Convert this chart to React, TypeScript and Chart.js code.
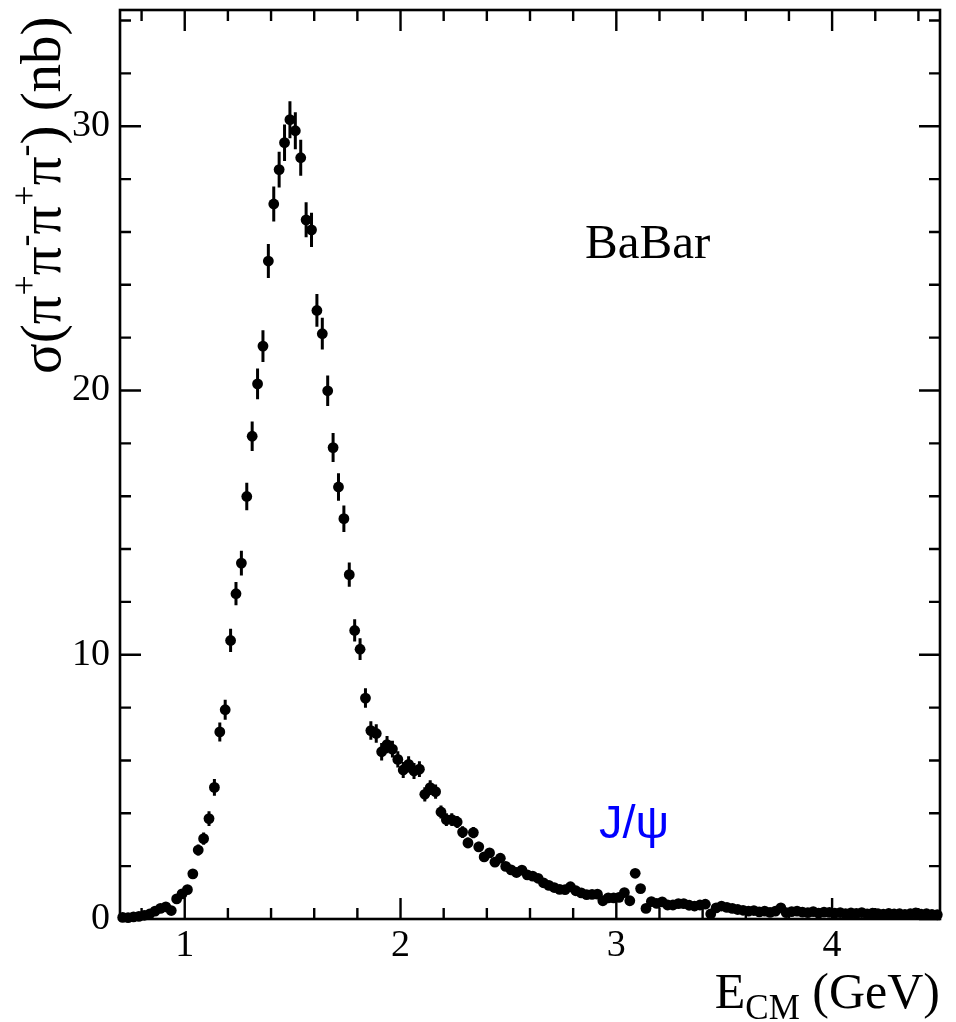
import { useEffect, useRef } from 'react';
import { Chart, registerables } from 'chart.js';

Chart.register(...registerables);

// Bin centres (GeV)
const energy = [
  0.7125, 0.7375, 0.7625, 0.7875, 0.8125, 0.8375, 0.8625, 0.8875,
  0.9125, 0.9375, 0.9625, 0.9875, 1.0125, 1.0375, 1.0625, 1.0875,
  1.1125, 1.1375, 1.1625, 1.1875, 1.2125, 1.2375, 1.2625, 1.2875,
  1.3125, 1.3375, 1.3625, 1.3875, 1.4125, 1.4375, 1.4625, 1.4875,
  1.5125, 1.5375, 1.5625, 1.5875, 1.6125, 1.6375, 1.6625, 1.6875,
  1.7125, 1.7375, 1.7625, 1.7875, 1.8125, 1.8375, 1.8625, 1.8875,
  1.9125, 1.9375, 1.9625, 1.9875, 2.0125, 2.0375, 2.0625, 2.0875,
  2.1125, 2.1375, 2.1625, 2.1875, 2.2125, 2.2375, 2.2625, 2.2875,
  2.3125, 2.3375, 2.3625, 2.3875, 2.4125, 2.4375, 2.4625, 2.4875,
  2.5125, 2.5375, 2.5625, 2.5875, 2.6125, 2.6375, 2.6625, 2.6875,
  2.7125, 2.7375, 2.7625, 2.7875, 2.8125, 2.8375, 2.8625, 2.8875,
  2.9125, 2.9375, 2.9625, 2.9875, 3.0125, 3.0375, 3.0625, 3.0875,
  3.1125, 3.1375, 3.1625, 3.1875, 3.2125, 3.2375, 3.2625, 3.2875,
  3.3125, 3.3375, 3.3625, 3.3875, 3.4125, 3.4375, 3.4625, 3.4875,
  3.5125, 3.5375, 3.5625, 3.5875, 3.6125, 3.6375, 3.6625, 3.6875,
  3.7125, 3.7375, 3.7625, 3.7875, 3.8125, 3.8375, 3.8625, 3.8875,
  3.9125, 3.9375, 3.9625, 3.9875, 4.0125, 4.0375, 4.0625, 4.0875,
  4.1125, 4.1375, 4.1625, 4.1875, 4.2125, 4.2375, 4.2625, 4.2875,
  4.3125, 4.3375, 4.3625, 4.3875, 4.4125, 4.4375, 4.4625, 4.4875,
];

// Cross section (nb)
const sigma = [
  0.06, 0.05, 0.08, 0.10, 0.14, 0.19, 0.30, 0.40,
  0.46, 0.32, 0.76, 0.95, 1.11, 1.71, 2.61, 3.04,
  3.80, 4.98, 7.08, 7.92, 10.54, 12.31, 13.47, 15.99,
  18.27, 20.25, 21.68, 24.90, 27.06, 28.36, 29.38, 30.25,
  29.83, 28.81, 26.46, 26.08, 23.03, 22.15, 19.99, 17.84,
  16.35, 15.15, 13.03, 10.92, 10.21, 8.36, 7.13, 7.02,
  6.33, 6.60, 6.43, 6.04, 5.64, 5.85, 5.60, 5.67,
  4.72, 4.97, 4.82, 4.05, 3.76, 3.76, 3.67, 3.29,
  2.88, 3.27, 2.73, 2.35, 2.50, 2.15, 2.30, 1.99,
  1.86, 1.76, 1.85, 1.67, 1.62, 1.54, 1.37, 1.27,
  1.19, 1.12, 1.11, 1.22, 1.07, 0.99, 0.92, 0.93,
  0.94, 0.69, 0.80, 0.80, 0.82, 1.00, 0.69, 1.73,
  1.15, 0.40, 0.66, 0.59, 0.65, 0.53, 0.53, 0.58,
  0.58, 0.52, 0.49, 0.53, 0.56, 0.19, 0.42, 0.49,
  0.44, 0.40, 0.36, 0.33, 0.30, 0.32, 0.27, 0.30,
  0.25, 0.30, 0.42, 0.24, 0.28, 0.30, 0.26, 0.24,
  0.28, 0.22, 0.26, 0.25, 0.22, 0.24, 0.20, 0.23,
  0.21, 0.24, 0.19, 0.22, 0.20, 0.18, 0.21, 0.19,
  0.20, 0.17, 0.20, 0.23, 0.18, 0.20, 0.17, 0.16,
];

// Statistical errors (nb)
const sigmaErr = [
  0.03, 0.03, 0.04, 0.04, 0.05, 0.06, 0.07, 0.08,
  0.09, 0.08, 0.11, 0.12, 0.13, 0.17, 0.21, 0.23,
  0.28, 0.32, 0.36, 0.38, 0.44, 0.44, 0.47, 0.52,
  0.56, 0.58, 0.60, 0.64, 0.66, 0.68, 0.69, 0.70,
  0.70, 0.68, 0.66, 0.65, 0.62, 0.60, 0.58, 0.55,
  0.52, 0.50, 0.46, 0.42, 0.41, 0.37, 0.35, 0.35,
  0.33, 0.33, 0.32, 0.31, 0.30, 0.31, 0.30, 0.30,
  0.27, 0.28, 0.27, 0.25, 0.24, 0.24, 0.23, 0.22,
  0.20, 0.21, 0.19, 0.18, 0.18, 0.17, 0.17, 0.16,
  0.15, 0.15, 0.15, 0.14, 0.14, 0.14, 0.13, 0.12,
  0.12, 0.12, 0.11, 0.12, 0.11, 0.11, 0.10, 0.10,
  0.10, 0.09, 0.09, 0.09, 0.09, 0.10, 0.09, 0.13,
  0.11, 0.07, 0.08, 0.08, 0.08, 0.07, 0.07, 0.08,
  0.08, 0.07, 0.07, 0.07, 0.08, 0.05, 0.07, 0.07,
  0.07, 0.06, 0.06, 0.06, 0.06, 0.06, 0.05, 0.06,
  0.05, 0.05, 0.05, 0.05, 0.05, 0.05, 0.05, 0.05,
  0.05, 0.05, 0.05, 0.05, 0.05, 0.05, 0.05, 0.05,
  0.05, 0.05, 0.05, 0.05, 0.05, 0.05, 0.05, 0.05,
  0.05, 0.05, 0.05, 0.05, 0.05, 0.05, 0.05, 0.05,
];

const xMajorTicks = [1, 2, 3, 4];
const xMinorTicks = [0.8, 1.2, 1.4, 1.6, 1.8, 2.2, 2.4, 2.6, 2.8, 3.2, 3.4, 3.6, 3.8, 4.2, 4.4];
const yMajorTicks = [0, 10, 20, 30];
const yMinorTicks = [2, 4, 6, 8, 12, 14, 16, 18, 22, 24, 26, 28, 32, 34];

const X_MIN = 0.7;
const X_MAX = 4.5;
const Y_MIN = 0;
const Y_MAX = 34.4;

const experimentLabel = 'BaBar';
const experimentLabelPos = { x: 2.855, y: 25.0 };
const resonanceLabel = 'J/ψ';
const resonanceLabelPos = { x: 2.92, y: 3.07 };

const SERIF = '"Liberation Serif", "Times New Roman", serif';
const SANS = '"Liberation Sans", Arial, sans-serif';

export default function App() {
  const ref = useRef<HTMLCanvasElement>(null);

  useEffect(() => {
    document.body.style.margin = '0';
    const canvas = ref.current!;

    const rootStyle = {
      id: 'rootStyle',
      beforeDatasetsDraw(chart: any) {
        const { ctx } = chart;
        const xs = chart.scales.x;
        const ys = chart.scales.y;
        ctx.save();
        ctx.strokeStyle = '#000';
        ctx.lineWidth = 3;
        ctx.beginPath();
        for (let i = 0; i < energy.length; i++) {
          const px = xs.getPixelForValue(energy[i]);
          ctx.moveTo(px, ys.getPixelForValue(sigma[i] - sigmaErr[i]));
          ctx.lineTo(px, ys.getPixelForValue(sigma[i] + sigmaErr[i]));
        }
        ctx.stroke();
        ctx.restore();
      },
      afterDatasetsDraw(chart: any) {
        const { ctx, chartArea: a } = chart;
        const xs = chart.scales.x;
        const ys = chart.scales.y;
        ctx.save();
        ctx.strokeStyle = '#000';
        ctx.lineWidth = 2.6;
        ctx.strokeRect(a.left, a.top, a.right - a.left, a.bottom - a.top);
        ctx.lineWidth = 2.4;
        ctx.beginPath();
        const xTick = (v: number, len: number) => {
          const p = xs.getPixelForValue(v);
          ctx.moveTo(p, a.bottom);
          ctx.lineTo(p, a.bottom - len);
          ctx.moveTo(p, a.top);
          ctx.lineTo(p, a.top + len);
        };
        const yTick = (v: number, len: number) => {
          const p = ys.getPixelForValue(v);
          ctx.moveTo(a.left, p);
          ctx.lineTo(a.left + len, p);
          ctx.moveTo(a.right, p);
          ctx.lineTo(a.right - len, p);
        };
        xMajorTicks.forEach((v) => xTick(v, 21));
        xMinorTicks.forEach((v) => xTick(v, 11));
        yMajorTicks.forEach((v) => yTick(v, 21));
        yMinorTicks.forEach((v) => yTick(v, 11));
        ctx.stroke();

        // annotations
        ctx.fillStyle = '#000';
        ctx.font = `49px ${SERIF}`;
        ctx.textAlign = 'left';
        ctx.textBaseline = 'alphabetic';
        ctx.fillText(
          experimentLabel,
          xs.getPixelForValue(experimentLabelPos.x),
          ys.getPixelForValue(experimentLabelPos.y)
        );
        ctx.fillStyle = '#0000ff';
        ctx.font = `47px ${SANS}`;
        ctx.fillText(
          resonanceLabel,
          xs.getPixelForValue(resonanceLabelPos.x),
          ys.getPixelForValue(resonanceLabelPos.y)
        );

        // x title: E_CM (GeV)
        ctx.fillStyle = '#000';
        const big = `50px ${SERIF}`;
        const small = `35px ${SERIF}`;
        ctx.font = big;
        const wE = ctx.measureText('E').width;
        const wRest = ctx.measureText(' (GeV)').width;
        ctx.font = small;
        const wCM = ctx.measureText('CM').width;
        let x0 = a.right - (wE + wCM + wRest);
        const base = 1008;
        ctx.font = big;
        ctx.fillText('E', x0, base);
        x0 += wE;
        ctx.font = small;
        ctx.fillText('CM', x0, base + 11);
        x0 += wCM;
        ctx.font = big;
        ctx.fillText(' (GeV)', x0, base);

        // y title: σ(π+π-π+π-) (nb), rotated
        const ybig = `57px ${SERIF}`;
        const ysup = `36px ${SERIF}`;
        ctx.translate(60, 374);
        ctx.rotate(-Math.PI / 2);
        const parts: [string, boolean][] = [
          ['σ(π', false], ['+', true], ['π', false], ['-', true],
          ['π', false], ['+', true], ['π', false], ['-', true],
          [') (nb)', false],
        ];
        let tx = 0;
        for (const [t, sup] of parts) {
          ctx.font = sup ? ysup : ybig;
          ctx.fillText(t, tx, sup ? -24 : 0);
          tx += ctx.measureText(t).width;
        }
        ctx.restore();
      },
    };

    const chart = new Chart(canvas, {
      type: 'scatter',
      data: {
        datasets: [
          {
            data: energy.map((x, i) => ({ x, y: sigma[i] })),
            pointRadius: 5.4,
            pointHoverRadius: 5.4,
            pointBackgroundColor: '#000',
            pointBorderWidth: 0,
            showLine: false,
            clip: 6,
          } as any,
        ],
      },
      options: {
        responsive: false,
        animation: false,
        devicePixelRatio: 1,
        events: [],
        layout: { autoPadding: false, padding: { top: 10, right: 16, left: 0, bottom: 0 } },
        plugins: { legend: { display: false }, tooltip: { enabled: false } },
        scales: {
          x: {
            type: 'linear',
            min: X_MIN,
            max: X_MAX,
            grid: { display: false, drawTicks: false },
            border: { display: false },
            afterBuildTicks: (s: any) => {
              s.ticks = xMajorTicks.map((v) => ({ value: v }));
            },
            afterFit: (s: any) => {
              s.height = 103;
              s.paddingLeft = 0;
              s.paddingRight = 0;
              s.paddingTop = 0;
              s.paddingBottom = 0;
            },
            ticks: {
              autoSkip: false,
              maxRotation: 0,
              padding: 4,
              color: '#000',
              font: { family: SERIF, size: 38 },
              callback: (v: any) => String(v),
            },
          },
          y: {
            type: 'linear',
            min: Y_MIN,
            max: Y_MAX,
            grid: { display: false, drawTicks: false },
            border: { display: false },
            afterBuildTicks: (s: any) => {
              s.ticks = yMajorTicks.map((v) => ({ value: v }));
            },
            afterFit: (s: any) => {
              s.width = 120;
              s.paddingLeft = 0;
              s.paddingRight = 0;
              s.paddingTop = 0;
              s.paddingBottom = 0;
            },
            ticks: {
              autoSkip: false,
              padding: 10,
              color: '#000',
              font: { family: SERIF, size: 38 },
              callback: (v: any) => String(v),
            },
          },
        },
      },
      plugins: [rootStyle],
    });

    return () => chart.destroy();
  }, []);

  return (
    <div style={{ position: 'absolute', left: 0, top: 0, width: 956, height: 1022, background: '#fff' }}>
      <canvas ref={ref} width={956} height={1022} style={{ display: 'block' }} />
    </div>
  );
}
